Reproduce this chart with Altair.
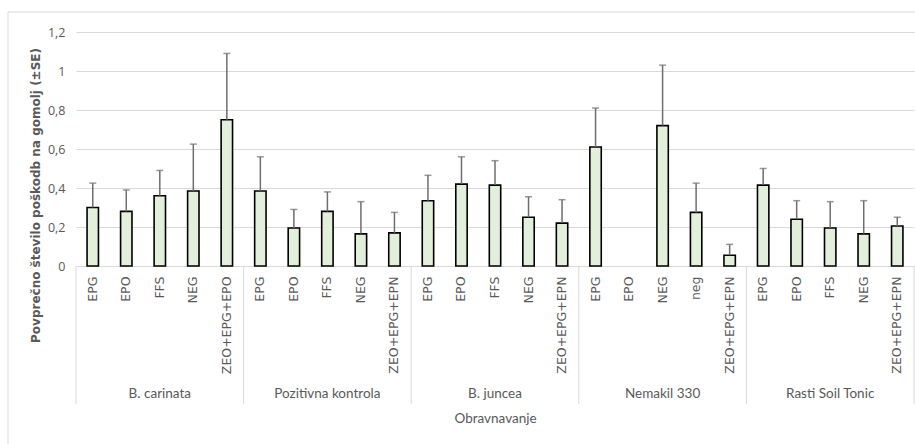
import altair as alt
import pandas as pd

# Treatment groups and the treatments within each group
groups = ["B. carinata", "Pozitivna kontrola", "B. juncea", "Nemakil 330", "Rasti Soil Tonic"]
treatments = [
    ["EPG", "EPO", "FFS", "NEG", "ZEO+EPG+EPO"],
    ["EPG", "EPO", "FFS", "NEG", "ZEO+EPG+EPN"],
    ["EPG", "EPO", "FFS", "NEG", "ZEO+EPG+EPN"],
    ["EPG", "EPO", "NEG", "neg", "ZEO+EPG+EPN"],
    ["EPG", "EPO", "FFS", "NEG", "ZEO+EPG+EPN"],
]
# Mean number of damages per tuber
means = [
    [0.30, 0.28, 0.36, 0.385, 0.75],
    [0.385, 0.195, 0.28, 0.165, 0.17],
    [0.335, 0.42, 0.415, 0.25, 0.22],
    [0.61, 0.0, 0.72, 0.275, 0.055],
    [0.415, 0.24, 0.195, 0.165, 0.205],
]
# Standard errors
errors = [
    [0.125, 0.11, 0.13, 0.24, 0.34],
    [0.175, 0.095, 0.10, 0.165, 0.105],
    [0.13, 0.14, 0.125, 0.105, 0.12],
    [0.20, 0.0, 0.31, 0.15, 0.056],
    [0.085, 0.095, 0.135, 0.17, 0.045],
]
y_ticks = [0, 0.2, 0.4, 0.6, 0.8, 1.0, 1.2]

rows = []
for g, ts, ms, es in zip(groups, treatments, means, errors):
    for i, (t, m, e) in enumerate(zip(ts, ms, es)):
        rows.append({"key": f"{g}|{t}", "group": g, "treatment": t, "pos": i,
                     "mean": m, "se": e, "upper": m + e})
df = pd.DataFrame(rows)
order = list(df["key"])

W, H = 838, 234
GRAY = "#595959"
LIGHT = "#d9d9d9"

x_scale = alt.Scale(domain=order, paddingInner=0, paddingOuter=0)
x_axis = alt.Axis(
    labelExpr="split(datum.value, '|')[1]",
    labelAngle=270, labelAlign="right", labelBaseline="middle",
    labelPadding=10, labelFont="DejaVu Sans", labelFontSize=12.5,
    labelColor=GRAY, labelOverlap=False, labelLimit=0,
    ticks=False, domainColor=LIGHT, domainWidth=1, grid=False,
    title="Obravnavanje", titleY=152, titleBaseline="middle",
    titleFont="Lato", titleFontSize=13.5, titleFontWeight="normal", titleColor=GRAY,
)
y_scale = alt.Scale(domain=[0, 1.2], nice=False, zero=True)
y_axis = alt.Axis(
    values=y_ticks, tickCount=7, labelOverlap=False,
    labelExpr="replace(format(datum.value, '~g'), '.', ',')",
    domain=False, ticks=False, grid=True, gridColor=LIGHT, gridWidth=1,
    labelPadding=11, labelFont="Open Sans", labelFontSize=12.5, labelColor=GRAY,
    title="Povprečno število poškodb na gomolj (±SE)",
    titleX=-41, titleY=163, titleAngle=270, titleAlign="center", titleBaseline="middle",
    titleFont="DejaVu Sans", titleFontSize=12, titleFontWeight="bold", titleColor=GRAY,
)

X = alt.X("key:N", scale=x_scale, axis=x_axis, sort=order)

base = alt.Chart(df)

bars = base.transform_filter("datum.mean > 0").mark_bar(
    width=alt.RelativeBandSize(0.34), fill="#E2EFDA", stroke="black", strokeWidth=1.6
).encode(
    x=X,
    y=alt.Y("mean:Q", scale=y_scale, axis=y_axis),
)

err_line = base.transform_filter("datum.se > 0").mark_rule(
    color="#6e6e6e", strokeWidth=1.5
).encode(
    x=X,
    y=alt.Y("mean:Q", scale=y_scale, axis=y_axis),
    y2="upper:Q",
)

err_cap = base.transform_filter("datum.se > 0").mark_tick(
    color="#6e6e6e", thickness=1.5, size=7
).encode(
    x=X,
    y=alt.Y("upper:Q", scale=y_scale, axis=y_axis),
)

# Vertical separators between the treatment groups in the label area
sep_left = base.transform_filter("datum.pos == 0").mark_rule(
    color=LIGHT, strokeWidth=1
).encode(
    x=alt.X("key:N", scale=x_scale, axis=x_axis, sort=order, bandPosition=0),
    y=alt.value(H),
    y2=alt.value(H + 138),
)
sep_right = base.transform_filter(f"datum.key == '{order[-1]}'").mark_rule(
    color=LIGHT, strokeWidth=1
).encode(
    x=alt.X("key:N", scale=x_scale, axis=x_axis, sort=order, bandPosition=1),
    y=alt.value(H),
    y2=alt.value(H + 138),
)

group_labels = base.transform_filter("datum.pos == 2").mark_text(
    font="Lato", fontSize=13.5, color=GRAY, baseline="middle", align="center"
).encode(
    x=X,
    y=alt.value(H + 128),
    text="group:N",
)

frame = alt.Chart(pd.DataFrame({"f": [0]})).mark_rect(
    filled=False, stroke=LIGHT, strokeWidth=1
).encode(
    x=alt.value(-68), x2=alt.value(W + 40),
    y=alt.value(-20), y2=alt.value(H + 220),
)

chart = alt.layer(
    frame, bars, err_line, err_cap, sep_left, sep_right, group_labels
).properties(
    width=W, height=H,
    autosize=alt.AutoSizeParams(type="none"),
    padding={"left": 76, "top": 32, "right": 1, "bottom": 178},
    background="white",
).configure_view(stroke=None)

chart.save("out.html", embed_options={"renderer": "svg", "actions": False})
